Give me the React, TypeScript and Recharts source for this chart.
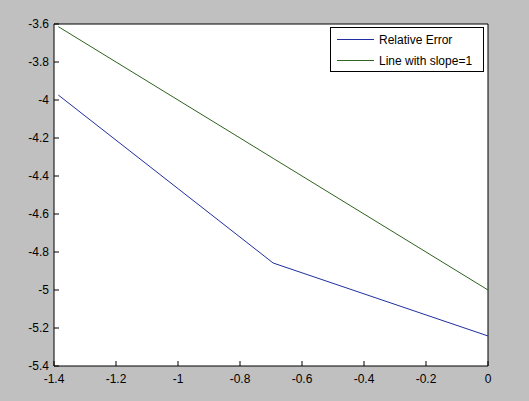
import React from 'react';
import {LineChart, Line, XAxis, YAxis, CartesianGrid, ReferenceLine} from 'recharts';

const logH = [-1.386, -0.693, 0];
const relativeError = [-3.974, -4.858, -5.242];
const slopeOne = [-3.614, -4.307, -5.0];
const xTicks = [-1.4, -1.2, -1, -0.8, -0.6, -0.4, -0.2, 0];
const yTicks = [-5.4, -5.2, -5, -4.8, -4.6, -4.4, -4.2, -4, -3.8, -3.6];

const data = logH.map((x, i) => ({x, err: relativeError[i], ref: slopeOne[i]}));

const FONT = '"Liberation Sans", Arial, sans-serif';
const fmt = (v: number) => String(Math.round(v * 10) / 10);

const BottomTick = (props: any) => {
  const {x, y, payload} = props;
  return (
    <g>
      <line x1={x} y1={y} x2={x} y2={y - 5} stroke="#000" />
      <text x={x} y={y + 17} textAnchor="middle" fontSize={12} fontFamily={FONT} fill="#000">
        {fmt(payload.value)}
      </text>
    </g>
  );
};

const TopTick = (props: any) => {
  const {x, y} = props;
  return <line x1={x} y1={y} x2={x} y2={y + 5} stroke="#000" />;
};

const LeftTick = (props: any) => {
  const {x, y, payload} = props;
  return (
    <g>
      <line x1={x} y1={y} x2={x + 5} y2={y} stroke="#000" />
      <text x={x - 5} y={y + 4} textAnchor="end" fontSize={12} fontFamily={FONT} fill="#000">
        {fmt(payload.value)}
      </text>
    </g>
  );
};

const RightTick = (props: any) => {
  const {x, y} = props;
  return <line x1={x} y1={y} x2={x - 5} y2={y} stroke="#000" />;
};

const legendItems = [
  {label: 'Relative Error', color: '#1f2f9f'},
  {label: 'Line with slope=1', color: '#2f6320'},
];

const LegendBox = () => (
  <div
    style={{
      position: 'absolute',
      left: 330,
      top: 27,
      width: 154,
      height: 45,
      background: '#fff',
      border: '1px solid #000',
      fontFamily: FONT,
      fontSize: 12,
      color: '#000',
      boxSizing: 'border-box',
      paddingTop: 1,
    }}
  >
    {legendItems.map((it) => (
      <div key={it.label} style={{display: 'flex', alignItems: 'center', height: 21}}>
        <div style={{marginLeft: 6, width: 37, height: 1, background: it.color}} />
        <span style={{marginLeft: 5}}>{it.label}</span>
      </div>
    ))}
  </div>
);

export default function App() {
  return (
    <div style={{position: 'absolute', left: 0, top: 0, width: 529, height: 401, background: '#c0c0c0'}}>
      <LineChart width={529} height={401} data={data} margin={{top: 24, right: 41, bottom: 0, left: 0}}>
        <CartesianGrid xAxisId="b" yAxisId="l" horizontal={false} vertical={false} fill="#fff" />
        <XAxis
          xAxisId="b"
          dataKey="x"
          type="number"
          domain={[-1.4, 0]}
          ticks={xTicks}
          tickSize={0}
          tickMargin={0}
          tickLine={false}
          axisLine={{stroke: '#000'}}
          tick={<BottomTick />}
          height={35}
          interval={0}
          allowDataOverflow
        />
        <XAxis
          xAxisId="t"
          orientation="top"
          dataKey="x"
          type="number"
          domain={[-1.4, 0]}
          ticks={xTicks}
          tickSize={0}
          tickMargin={0}
          tickLine={false}
          axisLine={{stroke: '#000'}}
          tick={<TopTick />}
          height={0}
          interval={0}
          allowDataOverflow
        />
        <YAxis
          yAxisId="l"
          type="number"
          domain={[-5.4, -3.6]}
          ticks={yTicks}
          tickSize={0}
          tickMargin={0}
          tickLine={false}
          axisLine={{stroke: '#000'}}
          tick={<LeftTick />}
          width={54}
          interval={0}
          allowDataOverflow
        />
        <YAxis
          yAxisId="r"
          orientation="right"
          type="number"
          domain={[-5.4, -3.6]}
          ticks={yTicks}
          tickSize={0}
          tickMargin={0}
          tickLine={false}
          axisLine={{stroke: '#000'}}
          tick={<RightTick />}
          width={0}
          interval={0}
          allowDataOverflow
        />
        <ReferenceLine xAxisId="b" yAxisId="l" y={-3.6} stroke="#000" />
        <ReferenceLine xAxisId="b" yAxisId="l" x={0} stroke="#000" />
        <Line
          xAxisId="b"
          yAxisId="l"
          dataKey="err"
          name="Relative Error"
          stroke="#1f2f9f"
          strokeWidth={1}
          dot={false}
          isAnimationActive={false}
        />
        <Line
          xAxisId="b"
          yAxisId="l"
          dataKey="ref"
          name="Line with slope=1"
          stroke="#2f6320"
          strokeWidth={1}
          dot={false}
          isAnimationActive={false}
        />
      </LineChart>
      <LegendBox />
    </div>
  );
}
